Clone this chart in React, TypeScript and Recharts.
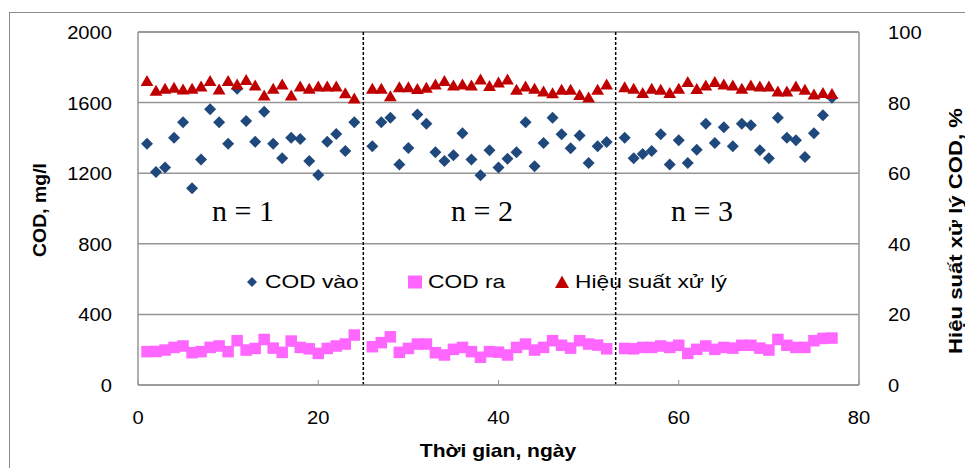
import React from 'react';
import { ScatterChart, Scatter, XAxis, YAxis, CartesianGrid, ReferenceLine, Legend } from 'recharts';

// days of operation (day 25 and 53 are the phase changes, no sample)
const days = [
  1, 2, 3, 4, 5, 6, 7, 8, 9, 10, 11, 12, 13, 14, 15, 16, 17, 18, 19, 20, 21, 22, 23, 24,
  26, 27, 28, 29, 30, 31, 32, 33, 34, 35, 36, 37, 38, 39, 40, 41, 42, 43, 44, 45, 46, 47, 48, 49, 50, 51, 52,
  54, 55, 56, 57, 58, 59, 60, 61, 62, 63, 64, 65, 66, 67, 68, 69, 70, 71, 72, 73, 74, 75, 76, 77,
];

const codIn = [
  1367, 1207, 1232, 1401, 1488, 1115, 1277, 1563, 1488, 1367, 1679, 1496, 1378, 1548, 1367, 1284, 1401, 1394, 1269, 1190, 1378, 1422, 1326, 1488,
  1352, 1488, 1514, 1250, 1343, 1533, 1480, 1318, 1269, 1301, 1427, 1277, 1188, 1330, 1232, 1282, 1318, 1488, 1239, 1371, 1514, 1420, 1341, 1413, 1258, 1352, 1377,
  1401, 1284, 1309, 1326, 1420, 1249, 1386, 1258, 1333, 1480, 1371, 1461, 1352, 1480, 1471, 1330, 1284, 1514, 1401, 1386, 1292, 1427, 1529, 1628,
];

const codOut = [
  189, 190, 198, 213, 221, 183, 189, 213, 221, 189, 251, 198, 207, 258, 209, 185, 249, 213, 205, 179, 207, 221, 232, 283,
  217, 240, 273, 185, 207, 232, 232, 183, 170, 202, 213, 189, 157, 189, 186, 170, 213, 232, 198, 213, 251, 225, 209, 251, 232, 226, 205,
  207, 205, 213, 213, 221, 213, 225, 179, 202, 221, 202, 213, 209, 225, 225, 209, 198, 258, 225, 213, 213, 251, 264, 266,
];

const efficiency = [
  86.2, 83.4, 84.0, 84.3, 83.8, 84.0, 84.6, 86.2, 83.8, 86.2, 85.2, 86.5, 84.9, 82.1, 84.0, 85.2, 82.1, 84.6, 84.0, 84.6, 84.6, 84.6, 82.7, 81.2,
  84.0, 84.0, 81.9, 84.4, 84.4, 83.9, 84.3, 85.2, 86.2, 84.9, 85.2, 84.9, 86.6, 84.8, 85.8, 86.6, 83.7, 84.6, 84.0, 83.2, 82.7, 83.7, 83.7, 82.2, 81.5, 83.7, 85.2,
  84.4, 84.0, 82.8, 84.0, 83.7, 82.8, 84.0, 85.9, 83.9, 84.9, 85.9, 85.2, 84.9, 84.0, 84.9, 84.6, 84.6, 83.2, 83.2, 84.6, 83.7, 82.4, 82.8, 82.5,
];

const xTicks = [0, 20, 40, 60, 80];
const leftTicks = [0, 400, 800, 1200, 1600, 2000];
const rightTicks = [0, 20, 40, 60, 80, 100];
const phaseBreaks = [25, 53];
const phaseLabels = ['n = 1', 'n = 2', 'n = 3'];
const seriesNames = ['COD vào', 'COD ra', 'Hiệu suất xử lý'];

const BLUE = '#1F497D';
const PINK = '#FF66FF';
const RED = '#C00000';
const GRID = '#959595';
const SANS = '"Liberation Sans", Arial, sans-serif';
const SERIF = '"Liberation Serif", "Times New Roman", serif';

const inData = days.map((day, i) => ({ day, value: codIn[i] }));
const outData = days.map((day, i) => ({ day, value: codOut[i] }));
const effData = days.map((day, i) => ({ day, value: efficiency[i] }));

const diamond = (p: any) => (
  <polygon points={`${p.cx},${p.cy - 6} ${p.cx + 6},${p.cy} ${p.cx},${p.cy + 6} ${p.cx - 6},${p.cy}`} fill={BLUE} />
);
const square = (p: any) => <rect x={p.cx - 5.75} y={p.cy - 5.75} width={11.5} height={11.5} fill={PINK} />;
const triangle = (p: any) => (
  <polygon points={`${p.cx},${p.cy - 5.75} ${p.cx + 6.4},${p.cy + 5.25} ${p.cx - 6.4},${p.cy + 5.25}`} fill={RED} />
);

const tickText = (x: number, y: number, anchor: string, value: any) => (
  <text transform={`translate(${x},${y}) scale(1.12,1)`} textAnchor={anchor} fontSize={18} fontFamily={SANS} fill="#000">
    {value}
  </text>
);

const LeftTick = ({ x, y, payload }: any) => tickText(x - 26, y + 7, 'end', payload.value);
const RightTick = ({ x, y, payload }: any) => tickText(x + 29, y + 7, 'start', payload.value);
const BottomTick = ({ x, y, payload }: any) => (
  <g>
    <line x1={x} y1={y} x2={x} y2={y - 5} stroke={GRID} />
    {tickText(x, y + 39, 'middle', payload.value)}
  </g>
);

const legendText: React.CSSProperties = {
  position: 'absolute', top: 0, lineHeight: '24px', fontSize: 18.5, fontFamily: SANS, color: '#000',
  whiteSpace: 'nowrap', transform: 'scaleX(1.23)', transformOrigin: 'left center',
};

const LegendBox = () => (
  <div style={{ position: 'relative', width: 520, height: 24 }}>
    <svg width={520} height={24} style={{ position: 'absolute', left: 0, top: 0 }}>
      <polygon points="14,7 19,12 14,17 9,12" fill={BLUE} />
      <rect x={170} y={5.5} width={14} height={13} fill={PINK} />
      <polygon points="324,5.5 331,18 317,18" fill={RED} />
    </svg>
    <span style={{ ...legendText, left: 27 }}>{seriesNames[0]}</span>
    <span style={{ ...legendText, left: 190 }}>{seriesNames[1]}</span>
    <span style={{ ...legendText, left: 337 }}>{seriesNames[2]}</span>
  </div>
);

export default function App() {
  return (
    <div style={{ position: 'fixed', left: 0, top: 0, width: 965, height: 468, overflow: 'hidden', background: '#fff' }}>
      <div style={{ position: 'absolute', left: 9, top: 12, width: 970, height: 470, borderLeft: '1px solid #8c8c8c', borderTop: '1px solid #8c8c8c' }} />
      <ScatterChart width={965} height={468} margin={{ top: 32, right: 0, bottom: 0, left: 0 }}>
        <CartesianGrid yAxisId="left" vertical={false} stroke={GRID} strokeWidth={1.5} />
        <XAxis
          type="number" dataKey="day" domain={[0, 80]} ticks={xTicks} interval={0}
          height={83} tickLine={false} tickSize={0} tickMargin={0} tick={BottomTick}
          axisLine={{ stroke: GRID, strokeWidth: 1.5 }}
        />
        <YAxis
          yAxisId="left" type="number" dataKey="value" domain={[0, 2000]} ticks={leftTicks} interval={0}
          width={138} tickLine={false} tickSize={0} tickMargin={0} tick={LeftTick}
          axisLine={{ stroke: GRID, strokeWidth: 1.5 }}
        />
        <YAxis
          yAxisId="right" orientation="right" type="number" dataKey="value" domain={[0, 100]} ticks={rightTicks} interval={0}
          width={106} tickLine={false} tickSize={0} tickMargin={0} tick={RightTick}
          axisLine={{ stroke: GRID, strokeWidth: 1.5 }}
        />
        <ReferenceLine yAxisId="left" y={2000} stroke={GRID} strokeWidth={1.5} />
        {phaseBreaks.map((d) => (
          <ReferenceLine key={d} yAxisId="left" x={d} stroke="#000" strokeWidth={1.5} strokeDasharray="3 2" />
        ))}
        <Scatter name={seriesNames[0]} data={inData} yAxisId="left" shape={diamond} isAnimationActive={false} />
        <Scatter name={seriesNames[1]} data={outData} yAxisId="left" shape={square} isAnimationActive={false} />
        <Scatter name={seriesNames[2]} data={effData} yAxisId="right" shape={triangle} isAnimationActive={false} />
        <Legend
          layout="horizontal" verticalAlign="middle" align="center"
          wrapperStyle={{ top: 270, left: 238, width: 520, height: 24 }}
          content={() => <LegendBox />}
        />
      </ScatterChart>
      <svg width={965} height={468} style={{ position: 'absolute', left: 0, top: 0, pointerEvents: 'none' }}>
        <g fontFamily={SERIF} fontSize={30} fill="#000" textAnchor="middle">
          <text x={243} y={220.7}>{phaseLabels[0]}</text>
          <text x={482} y={220.7}>{phaseLabels[1]}</text>
          <text x={702} y={220.7}>{phaseLabels[2]}</text>
        </g>
        <g fontFamily={SANS} fontSize={18} fontWeight="bold" fill="#000" textAnchor="middle">
          <text transform="translate(45.7,210) rotate(-90) scale(1.08,1)">COD, mg/l</text>
          <text transform="translate(961.7,231) rotate(-90) scale(1.23,1)">Hiệu suất xử lý COD, %</text>
          <text transform="translate(498,457) scale(1.17,1)">Thời gian, ngày</text>
        </g>
      </svg>
    </div>
  );
}
